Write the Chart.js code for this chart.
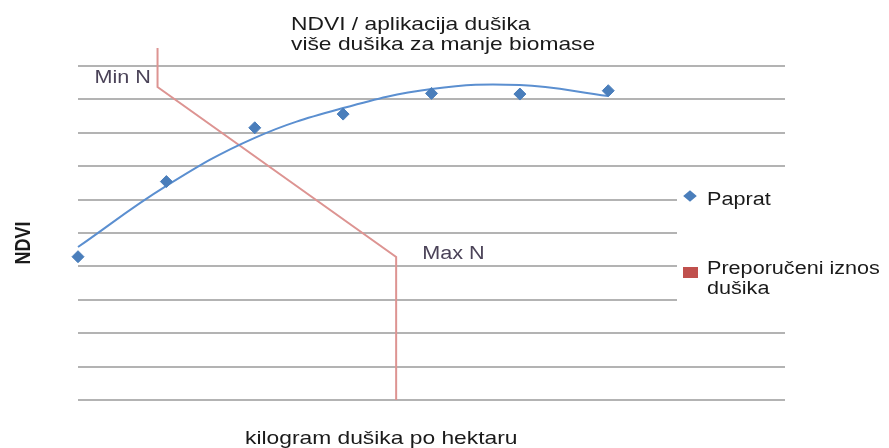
<!DOCTYPE html>
<html>
<head>
<meta charset="utf-8">
<script src="https://cdn.jsdelivr.net/npm/chart.js@4"></script>
<style>
  html, body { margin: 0; padding: 0; background: #fff; }
  #wrap { width: 889px; height: 448px; }
</style>
</head>
<body>
<div id="wrap"><canvas id="ndviChart" width="889" height="448"></canvas></div>
<script>
// kg N po hektaru
const nitrogenKg = [0, 20, 40, 60, 80, 100, 120];
const ndviPaprat = [4.29, 6.54, 8.15, 8.56, 9.18, 9.16, 9.26];
const ndviTrend = [4.58, 6.41, 7.85, 8.74, 9.31, 9.43, 9.10];

// preporuceni iznos dusika (Min N -> Max N)
const recommendedKg = [18, 18, 72, 72];
const recommendedNdvi = [10.54, 9.37, 4.28, 0];

const titleLines = ["NDVI / aplikacija dušika", "više dušika za manje biomase"];
const xTitle = "kilogram dušika po hektaru";
const yTitle = "NDVI";
const legendLabels = ["Paprat", "Preporučeni iznos", "dušika"];

const blue = "#4a7ebb";
const red = "#c0504d";
const redLine = "#dd9492";
const FONT = "'Liberation Sans', Arial, sans-serif";
const SX = 1.2; // text is drawn a bit wider than normal

function wideText(ctx, text, x, y, font, color, align) {
  ctx.save();
  ctx.font = font;
  ctx.fillStyle = color;
  ctx.textBaseline = "alphabetic";
  const w = ctx.measureText(text).width * SX;
  let left = x;
  if (align === "center") left = x - w / 2;
  ctx.translate(left, y);
  ctx.scale(SX, 1);
  ctx.textAlign = "left";
  ctx.fillText(text, 0, 0);
  ctx.restore();
}

const decorations = {
  id: "decorations",
  afterDatasetsDraw(chart) {
    const ctx = chart.ctx;
    const xs = chart.scales.x, ys = chart.scales.y;

    // title
    wideText(ctx, titleLines[0], 291, 30, "19px " + FONT, "#1a1a1a");
    wideText(ctx, titleLines[1], 291, 50, "19px " + FONT, "#1a1a1a");

    // axis titles
    wideText(ctx, xTitle, 245, 444, "19px " + FONT, "#1a1a1a");
    ctx.save();
    ctx.translate(30, 243);
    ctx.scale(SX, 1);
    ctx.rotate(-Math.PI / 2);
    ctx.font = "bold 18px " + FONT;
    ctx.fillStyle = "#1a1a1a";
    ctx.textAlign = "center";
    ctx.fillText(yTitle, 0, 0);
    ctx.restore();

    // Min N / Max N labels
    const minX = xs.getPixelForValue(recommendedKg[0]);
    const maxX = xs.getPixelForValue(recommendedKg[2]);
    wideText(ctx, "Min N", minX - 63, ys.getPixelForValue(9.5), "18px " + FONT, "#4b4358");
    wideText(ctx, "Max N", maxX + 26, ys.getPixelForValue(4.22), "18px " + FONT, "#4b4358");

    // legend
    ctx.fillStyle = "#fff";
    ctx.fillRect(677, 178, 212, 134);
    ctx.save();
    ctx.translate(690, 196);
    ctx.scale(1.2, 1);
    ctx.rotate(Math.PI / 4);
    ctx.fillStyle = blue;
    ctx.fillRect(-4, -4, 8, 8);
    ctx.restore();
    wideText(ctx, legendLabels[0], 707, 205, "18px " + FONT, "#1a1a1a");
    ctx.fillStyle = red;
    ctx.fillRect(683, 267, 15, 11);
    wideText(ctx, legendLabels[1], 707, 274, "18px " + FONT, "#1a1a1a");
    wideText(ctx, legendLabels[2], 707, 294, "18px " + FONT, "#1a1a1a");
  }
};

function toPoints(xArr, yArr) {
  return xArr.map((x, i) => ({ x: x, y: yArr[i] }));
}

new Chart(document.getElementById("ndviChart"), {
  type: "scatter",
  data: {
    datasets: [
      {
        label: "Preporučeni iznos dušika",
        data: toPoints(recommendedKg, recommendedNdvi),
        showLine: true,
        borderColor: redLine,
        borderWidth: 2,
        pointRadius: 0,
        tension: 0,
        clip: false,
        order: 3
      },
      {
        label: "trend",
        data: toPoints(nitrogenKg, ndviTrend),
        showLine: true,
        borderColor: "#5b8fd0",
        borderWidth: 2,
        pointRadius: 0,
        tension: 0.4,
        clip: false,
        order: 2
      },
      {
        label: "Paprat",
        data: toPoints(nitrogenKg, ndviPaprat),
        backgroundColor: blue,
        borderColor: blue,
        pointStyle: "rectRot",
        pointRadius: 6,
        clip: false,
        order: 1
      }
    ]
  },
  options: {
    responsive: false,
    animation: false,
    layout: { padding: { left: 78, right: 104, top: 66, bottom: 48 } },
    plugins: {
      legend: { display: false },
      tooltip: { enabled: false }
    },
    scales: {
      x: {
        type: "linear",
        min: 0,
        max: 160,
        display: false
      },
      y: {
        min: 0,
        max: 10,
        ticks: { display: false, stepSize: 1 },
        grid: { color: "#b3b3b3", lineWidth: 2, drawTicks: false },
        border: { display: false },
        afterFit: scale => { scale.width = 0; }
      }
    }
  },
  plugins: [decorations]
});
</script>
</body>
</html>
